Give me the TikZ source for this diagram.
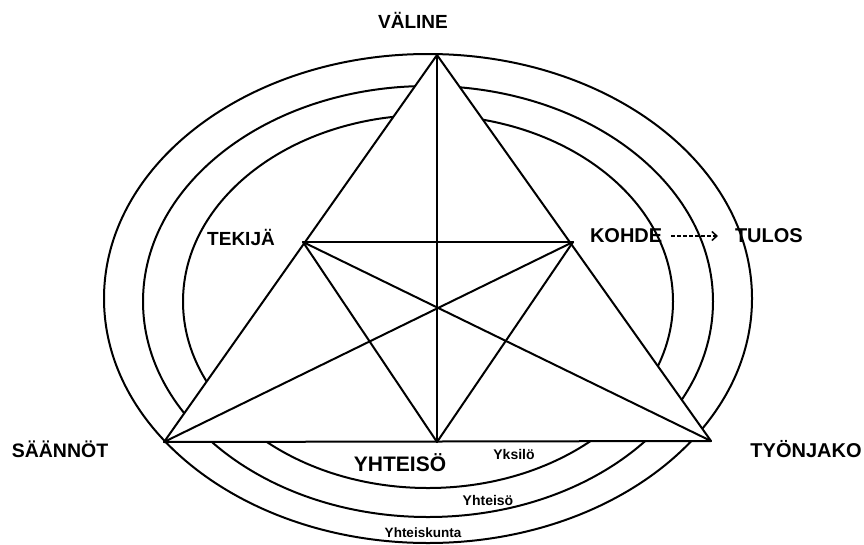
\documentclass[tikz,border=0pt]{standalone}
\usepackage{fontspec}
\setmainfont{Liberation Sans}
\usetikzlibrary{arrows.meta}

\begin{document}
\begin{tikzpicture}[x=1pt, y=-1pt, line width=2pt, line cap=round, line join=round,
    lab/.style={anchor=center, inner sep=0pt, font=\bfseries\fontsize{#1}{#1}\selectfont}]

  % ── 三个同心椭圆（外 / 中 / 内）──
  \draw (428,298.5) ellipse [x radius=324, y radius=244.5];
  \draw (428,301.5) ellipse [x radius=285, y radius=215.5];
  \draw (428,301.5) ellipse [x radius=245, y radius=186.5];

  % ── 六个顶点 ──
  \coordinate (valine)   at (437,55);
  \coordinate (tekija)   at (303,242);
  \coordinate (kohde)    at (573,242);
  \coordinate (saannot)  at (164,442);
  \coordinate (tyonjako) at (711,441);
  \coordinate (yhteiso)  at (437,442);

  % ── 大三角形：白底盖住椭圆 ──
  \fill[white] (valine) -- (saannot) -- (tyonjako) -- cycle;
  \draw (valine) -- (saannot) -- (tyonjako) -- cycle;

  % ── 内部连线 ──
  \foreach \a/\b in {tekija/kohde, valine/yhteiso, tekija/yhteiso, kohde/yhteiso,
                     tekija/tyonjako, kohde/saannot}
    \draw (\a) -- (\b);

  % ── 标签（名/x/y/字号/文字）──
  \foreach \nm/\x/\y/\sz/\lab in {%
      lvaline/413/20/19/VÄLINE,
      ltekija/241/237/19/TEKIJÄ,
      lsaannot/60/449/19.5/SÄÄNNÖT,
      ltyonjako/806/449/20/TYÖNJAKO,
      lyhteiso/400/463/21/YHTEISÖ,
      lyksilo/514/454/14/Yksilö,
      lyhteiso2/488/500/14/Yhteisö,
      lyhteiskunta/423/533/13.5/Yhteiskunta}
    \node[lab=\sz] (\nm) at (\x,\y) {\lab};

  \node[lab=20, anchor=west] (lkohde) at (589,236) {KOHDE};
  \node[lab=20, anchor=west] (ltulos) at (734,236) {TULOS};
  \draw[line width=1.5pt, dash pattern=on 4pt off 2pt, line cap=butt,
        -{Straight Barb[length=5pt, width=9pt, line width=1.5pt]}]
    ([xshift=8pt]lkohde.east) -- ([xshift=-16pt]ltulos.west);

  % 钉死画布
  \path[use as bounding box] (0,0) rectangle (864,544);
\end{tikzpicture}
\end{document}
